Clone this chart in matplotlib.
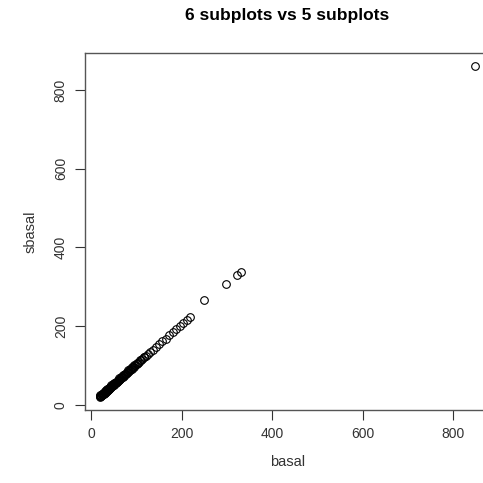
import numpy as np
import matplotlib
matplotlib.use("Agg")
import matplotlib.pyplot as plt

# values (basal vs sbasal)
basal = [18, 19, 20, 21, 22, 23, 24, 25, 26, 27, 28, 29, 30, 31, 32, 33, 34,
         35, 36, 37, 38, 39, 40, 41, 42, 43, 44, 45, 46, 47, 48, 49, 50,
         52, 53, 54, 56, 57, 58, 60, 61, 63, 64, 66, 68, 69, 71, 73, 75, 77,
         79, 81, 83, 85, 87, 89, 92, 94, 97, 100, 103, 106, 110, 113, 117,
         121, 125, 130, 136, 143, 150, 157, 164, 172, 180, 187, 195, 203,
         211, 219, 249, 298, 322, 331, 849,
         # second strand of the dense band
         20, 23, 26, 29, 32, 35, 38, 41, 44, 47, 50, 54, 58, 62, 66, 70,
         74, 78, 82, 86, 90, 95, 100, 108, 116]
sbasal = [20, 21, 22, 23, 23, 24, 25, 27, 27, 28, 29, 30, 31, 32, 33, 34, 35,
          36, 37, 38, 39, 40, 41, 43, 44, 45, 46, 47, 48, 49, 50, 51, 52,
          54, 55, 56, 58, 59, 60, 62, 63, 65, 66, 68, 70, 71, 73, 75, 77, 79,
          81, 83, 86, 88, 90, 92, 95, 97, 100, 103, 106, 109, 113, 117, 121,
          125, 129, 134, 140, 147, 154, 161, 168, 176, 184, 192, 200, 208,
          216, 224, 266, 307, 330, 337, 860,
          25, 28, 31, 34, 37, 40, 43, 46, 49, 52, 55, 59, 63, 67, 71, 75,
          79, 83, 87, 91, 95, 100, 105, 113, 121]

xticks = [0, 200, 400, 600, 800]
yticks = [0, 200, 400, 600, 800]

plt.rcParams["font.family"] = ["Liberation Sans", "DejaVu Sans"]

fig = plt.figure(figsize=(4.83, 4.83), dpi=100)
ax = fig.add_axes([0.175, 0.151, 0.84, 0.739])

ax.plot(basal, sbasal, "o", markersize=5.5, markerfacecolor="none",
        markeredgecolor="black", markeredgewidth=0.8)

# R-style 4% padding
x = np.array(basal)
y = np.array(sbasal)
rx = x.max() - x.min()
ry = y.max() - y.min()
ax.set_xlim(x.min() - 0.04 * rx, x.max() + 0.04 * rx)
ax.set_ylim(y.min() - 0.04 * ry, y.max() + 0.04 * ry)

ax.set_xticks(xticks)
ax.set_yticks(yticks)
ax.set_yticklabels([str(v) for v in yticks], rotation=90, va="center")
ax.tick_params(direction="out", length=7, width=0.8, colors="#333333",
               labelsize=10, pad=5, labelcolor="#333333")

for s in ax.spines.values():
    s.set_color("#555555")
    s.set_linewidth(1.0)

ax.set_title("6 subplots vs 5 subplots", fontsize=12.5, fontweight="bold", pad=24)
ax.set_xlabel("basal", fontsize=10.5, labelpad=10, color="#333333")
ax.set_ylabel("sbasal", fontsize=10.5, labelpad=12, color="#333333")

fig.savefig("out.png", dpi=100)
